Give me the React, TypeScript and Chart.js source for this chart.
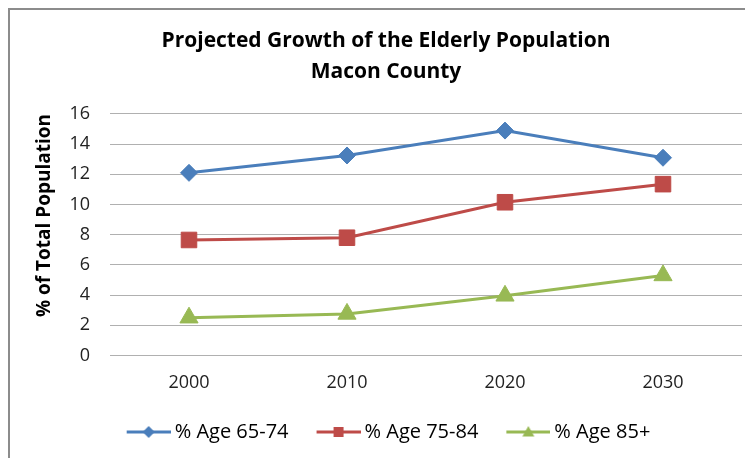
import React, { useEffect, useRef } from "react";
import { Chart, registerables } from "chart.js";

Chart.register(...registerables);

const years = ["2000", "2010", "2020", "2030"];
const age6574 = [12.1, 13.25, 14.9, 13.1];
const age7584 = [7.65, 7.8, 10.15, 11.35];
const age85 = [2.5, 2.75, 3.95, 5.3];
const seriesNames = ["% Age 65-74", "% Age 75-84", "% Age 85+"];
const titleLines = ["Projected Growth of the Elderly Population", "Macon County"];
const yTitle = "% of Total Population";
const yMin = 0;
const yMax = 16;
const yStep = 2;

const BLUE = "#4a7ebb";
const RED = "#be4b48";
const GREEN = "#98b954";
const FONT = "'Open Sans', 'Noto Sans', sans-serif";

// legend icon: transparent space on the left, line + marker on the right
const ICON_BOX = 55;
function makeIcon(color: string, kind: string): HTMLCanvasElement {
  const w = ICON_BOX + 12;
  const h = 16;
  const lineLen = 44;
  const c = document.createElement("canvas");
  c.width = w;
  c.height = h;
  const ctx = c.getContext("2d")!;
  ctx.strokeStyle = color;
  ctx.fillStyle = color;
  ctx.lineWidth = 3;
  const x0 = w - lineLen;
  ctx.beginPath();
  ctx.moveTo(x0, h / 2);
  ctx.lineTo(w, h / 2);
  ctx.stroke();
  const cx = x0 + lineLen / 2;
  const cy = h / 2;
  ctx.beginPath();
  if (kind === "diamond") {
    const r = 6;
    ctx.moveTo(cx, cy - r);
    ctx.lineTo(cx + r, cy);
    ctx.lineTo(cx, cy + r);
    ctx.lineTo(cx - r, cy);
  } else if (kind === "square") {
    const s = 5;
    ctx.rect(cx - s, cy - s, 2 * s, 2 * s);
  } else {
    const r = 6;
    ctx.moveTo(cx, cy - r);
    ctx.lineTo(cx + r, cy + r * 0.75);
    ctx.lineTo(cx - r, cy + r * 0.75);
  }
  ctx.closePath();
  ctx.fill();
  return c;
}

const legendShift = {
  id: "legendShift",
  afterLayout(chart: any) {
    const lg = chart.legend;
    if (lg) {
      lg.left -= 6;
      lg.right -= 6;
    }
  },
};

export default function App() {
  const ref = useRef<HTMLCanvasElement>(null);

  useEffect(() => {
    const icons = [
      makeIcon(BLUE, "diamond"),
      makeIcon(RED, "square"),
      makeIcon(GREEN, "triangle"),
    ];
    const colors = [BLUE, RED, GREEN];
    const chart = new Chart(ref.current!, {
      type: "line",
      data: {
        labels: years,
        datasets: [
          {
            label: seriesNames[0],
            data: age6574,
            borderColor: BLUE,
            backgroundColor: BLUE,
            borderWidth: 3,
            pointStyle: "rectRot",
            pointRadius: 8.5,
            pointBorderWidth: 1,
            pointBackgroundColor: BLUE,
            pointBorderColor: BLUE,
          },
          {
            label: seriesNames[1],
            data: age7584,
            borderColor: RED,
            backgroundColor: RED,
            borderWidth: 3,
            pointStyle: "rect",
            pointRadius: 11,
            pointBorderWidth: 1,
            pointBackgroundColor: RED,
            pointBorderColor: RED,
          },
          {
            label: seriesNames[2],
            data: age85,
            borderColor: GREEN,
            backgroundColor: GREEN,
            borderWidth: 3,
            pointStyle: "triangle",
            pointRadius: 10.5,
            pointBorderWidth: 1,
            pointBackgroundColor: GREEN,
            pointBorderColor: GREEN,
          },
        ],
      },
      plugins: [legendShift],
      options: {
        responsive: false,
        animation: false,
        devicePixelRatio: 1,
        layout: { padding: { left: 20, right: 20, top: 0, bottom: 6 } },
        plugins: {
          tooltip: { enabled: false },
          title: {
            display: true,
            text: titleLines,
            color: "#000",
            font: { family: FONT, size: 21, weight: "bold", lineHeight: 1.476 },
            padding: { top: 16, bottom: 26 },
          },
          legend: {
            position: "bottom",
            labels: {
              usePointStyle: true,
              pointStyleWidth: ICON_BOX,
              padding: 11,
              color: "#000",
              font: { family: FONT, size: 20 },
              generateLabels: () =>
                seriesNames.map((name, i) => ({
                  text: name,
                  pointStyle: icons[i],
                  fillStyle: colors[i],
                  strokeStyle: colors[i],
                  lineWidth: 0,
                  hidden: false,
                  datasetIndex: i,
                })),
            },
          },
        },
        scales: {
          x: {
            offset: true,
            grid: { display: false, drawTicks: false },
            border: { display: false },
            ticks: {
              padding: 17,
              color: "#222",
              maxRotation: 0,
              font: { family: FONT, size: 18 },
            },
          },
          y: {
            min: yMin,
            max: yMax,
            grid: { color: "#b0b0b0", lineWidth: 1, drawTicks: false },
            border: { display: false },
            ticks: {
              stepSize: yStep,
              padding: 20,
              color: "#222",
              font: { family: FONT, size: 18 },
            },
            title: {
              display: true,
              text: yTitle,
              align: "end",
              color: "#000",
              font: { family: FONT, size: 19, weight: "bold" },
              padding: { top: 3, bottom: 0 },
            },
            afterFit: (scale: any) => {
              scale.width = 80;
            },
          },
        },
      },
    } as any);
    return () => chart.destroy();
  }, []);

  return (
    <div
      style={{
        width: 745,
        height: 450,
        overflow: "hidden",
        boxSizing: "border-box",
        borderTop: "2px solid #8c8c8c",
        borderLeft: "2px solid #8c8c8c",
        background: "#fff",
      }}
    >
      <canvas ref={ref} width={752} height={448} style={{ display: "block" }} />
    </div>
  );
}
